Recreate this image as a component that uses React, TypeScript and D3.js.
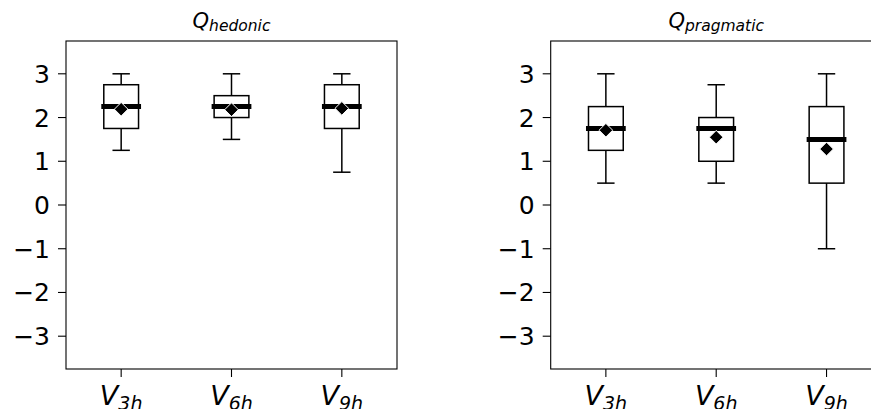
import React from "react";
import * as d3 from "d3";

const categories = ["3h", "6h", "9h"];
const yTicks = [-3, -2, -1, 0, 1, 2, 3];

// hedonic panel
const hedWhiskerLow = [1.25, 1.5, 0.75];
const hedQ1 = [1.75, 2.0, 1.75];
const hedMedian = [2.25, 2.25, 2.25];
const hedQ3 = [2.75, 2.5, 2.75];
const hedWhiskerHigh = [3, 3, 3];
const hedMean = [2.19, 2.18, 2.21];

// pragmatic panel
const pragWhiskerLow = [0.5, 0.5, -1.0];
const pragQ1 = [1.25, 1.0, 0.5];
const pragMedian = [1.75, 1.75, 1.5];
const pragQ3 = [2.25, 2.0, 2.25];
const pragWhiskerHigh = [3, 2.75, 3];
const pragMean = [1.71, 1.55, 1.28];

type PanelProps = {
  left: number;
  title: string;
  low: number[];
  q1: number[];
  med: number[];
  q3: number[];
  high: number[];
  mean: number[];
};

const TOP = 41;
const BOTTOM = 369;
const WIDTH = 331;
const FONT = "DejaVu Sans, sans-serif";

function Panel({ left, title, low, q1, med, q3, high, mean }: PanelProps) {
  const x = d3.scaleLinear().domain([0.5, 3.5]).range([left, left + WIDTH]);
  const y = d3.scaleLinear().domain([-3.75, 3.75]).range([BOTTOM, TOP]);
  const boxW = x(1.315) - x(1);
  const capW = boxW / 2;
  const diamond = d3.symbol().type(d3.symbolDiamond2).size(118)();
  return (
    <g>
      <text
        x={left + WIDTH / 2}
        y={28}
        textAnchor="middle"
        fontFamily={FONT}
        fontStyle="italic"
        fontSize={21}
      >
        Q<tspan fontSize={15.5} dy={3}>{title}</tspan>
      </text>
      {categories.map((c, i) => {
        const cx = x(i + 1);
        return (
          <g key={c}>
            <line x1={cx} x2={cx} y1={y(q3[i])} y2={y(high[i])} stroke="#000" strokeWidth={1.5} />
            <line x1={cx} x2={cx} y1={y(q1[i])} y2={y(low[i])} stroke="#000" strokeWidth={1.5} />
            <line x1={cx - capW / 2} x2={cx + capW / 2} y1={y(high[i])} y2={y(high[i])} stroke="#000" strokeWidth={1.5} />
            <line x1={cx - capW / 2} x2={cx + capW / 2} y1={y(low[i])} y2={y(low[i])} stroke="#000" strokeWidth={1.5} />
            <rect
              x={cx - boxW / 2}
              y={y(q3[i])}
              width={boxW}
              height={y(q1[i]) - y(q3[i])}
              fill="none"
              stroke="#000"
              strokeWidth={1.5}
            />
            <line
              x1={cx - boxW / 2}
              x2={cx + boxW / 2}
              y1={y(med[i])}
              y2={y(med[i])}
              stroke="#000"
              strokeWidth={5}
              strokeLinecap="square"
            />
            <path
              d={diamond || ""}
              transform={`translate(${cx},${y(mean[i])})`}
              fill="#000"
              stroke="#fff"
              strokeWidth={1}
            />
          </g>
        );
      })}
      <rect x={left} y={TOP} width={WIDTH} height={BOTTOM - TOP} fill="none" stroke="#000" strokeWidth={1.1} />
      {yTicks.map((t) => (
        <g key={t}>
          <line x1={left - 8} x2={left} y1={y(t)} y2={y(t)} stroke="#000" strokeWidth={1.1} />
          <text
            x={left - 16}
            y={y(t)}
            dy="0.36em"
            textAnchor="end"
            fontFamily={FONT}
            fontSize={25}
          >
            {t < 0 ? "\u2212" + Math.abs(t) : String(t)}
          </text>
        </g>
      ))}
      {categories.map((c, i) => (
        <g key={"xt" + c}>
          <line x1={x(i + 1)} x2={x(i + 1)} y1={BOTTOM} y2={BOTTOM + 8} stroke="#000" strokeWidth={1.1} />
          <text
            x={x(i + 1)}
            y={BOTTOM + 36}
            textAnchor="middle"
            fontFamily={FONT}
            fontStyle="italic"
            fontSize={27}
          >
            V<tspan fontSize={19} dy={5}>{c}</tspan>
          </text>
        </g>
      ))}
    </g>
  );
}

export default function App() {
  return (
    <svg
      width={871}
      height={409}
      style={{ position: "absolute", left: 0, top: 0, background: "#fff" }}
    >
      <rect width={871} height={409} fill="#fff" />
      <Panel left={66} title="hedonic" low={hedWhiskerLow} q1={hedQ1} med={hedMedian} q3={hedQ3} high={hedWhiskerHigh} mean={hedMean} />
      <Panel left={550.7} title="pragmatic" low={pragWhiskerLow} q1={pragQ1} med={pragMedian} q3={pragQ3} high={pragWhiskerHigh} mean={pragMean} />
    </svg>
  );
}
